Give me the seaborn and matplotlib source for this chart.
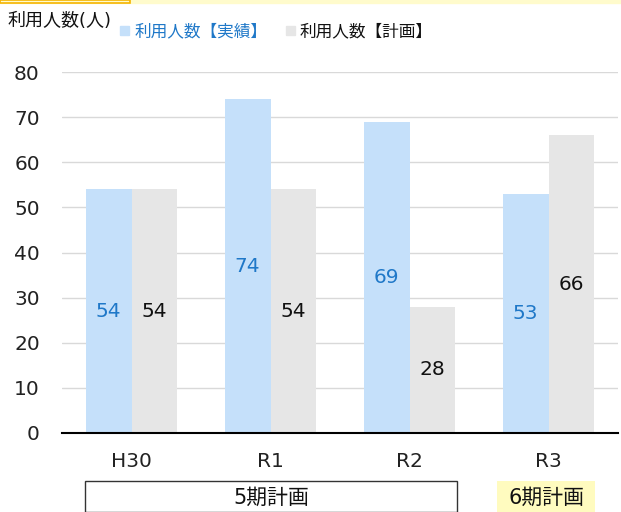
import matplotlib
matplotlib.use("Agg")
import matplotlib.pyplot as plt
from matplotlib.patches import Rectangle
import seaborn as sns
import pandas as pd

years = ["H30", "R1", "R2", "R3"]
actual = [54, 74, 69, 53]
planned = [54, 54, 28, 66]
series_names = ["利用人数【実績】", "利用人数【計画】"]
y_ticks = [0, 10, 20, 30, 40, 50, 60, 70, 80]
y_title = "利用人数(人)"
period_labels = ["5期計画", "6期計画"]

sns.set_theme(style="white")
plt.rcParams["font.family"] = ["DejaVu Sans", "Noto Sans CJK JP"]

blue_bar = "#C5E0FA"
gray_bar = "#E6E6E6"
blue_text = "#1F78C8"

df = pd.DataFrame({
    "year": years * 2,
    "value": actual + planned,
    "series": [series_names[0]] * len(years) + [series_names[1]] * len(years),
})

fig = plt.figure(figsize=(6.21, 5.12), dpi=100)
ax = fig.add_axes([62 / 621, (512 - 433) / 512, (618 - 62) / 621, (433 - 72) / 512])

sns.barplot(data=df, x="year", y="value", hue="series", order=years,
            hue_order=series_names, palette=[blue_bar, gray_bar],
            width=0.66, gap=0, saturation=1, legend=False,
            linewidth=0, edgecolor="none", ax=ax)

ax.set_xlim(-0.5, 3.5)
ax.set_ylim(0, 80)
ax.set_yticks(y_ticks)
ax.tick_params(axis="y", labelsize=14.5, length=0, pad=16, labelcolor="#222222")
ax.tick_params(axis="x", labelsize=14.5, length=0, pad=14, labelcolor="#222222")
ax.set_xlabel("")
ax.set_ylabel("")
ax.yaxis.grid(True, color="#D9D9D9", linewidth=1)
ax.set_axisbelow(True)
for side in ["top", "right", "left"]:
    ax.spines[side].set_visible(False)
ax.spines["bottom"].set_color("#000000")
ax.spines["bottom"].set_linewidth(1.5)

# value labels at the middle of each bar
for container, color in zip(ax.containers, [blue_text, "#111111"]):
    for bar in container:
        h = bar.get_height()
        ax.text(bar.get_x() + bar.get_width() / 2, h / 2, f"{h:.0f}",
                ha="center", va="center", fontsize=14.5, color=color)

# axis title and legend along the top
fig.text(8 / 621, 1 - 21 / 512, y_title, ha="left", va="center",
         fontsize=13, color="#111111")
fig.patches.append(Rectangle((120 / 621, 1 - 35 / 512), 9 / 621, 9 / 512,
                             transform=fig.transFigure, color=blue_bar))
fig.text(135 / 621, 1 - 31 / 512, series_names[0], ha="left", va="center",
         fontsize=12, color=blue_text)
fig.patches.append(Rectangle((286 / 621, 1 - 35 / 512), 9 / 621, 9 / 512,
                             transform=fig.transFigure, color=gray_bar))
fig.text(300 / 621, 1 - 31 / 512, series_names[1], ha="left", va="center",
         fontsize=12, color="#111111")

# header strip
fig.patches.append(Rectangle((0, 1 - 3 / 512), 1, 3 / 512,
                             transform=fig.transFigure, color="#FFFBCC", zorder=0))
fig.patches.append(Rectangle((0, 1 - 3 / 512), 130 / 621, 3 / 512,
                             transform=fig.transFigure, facecolor="none",
                             edgecolor="#F5B400", linewidth=1.2))

# planning period boxes under the x axis
fig.patches.append(Rectangle((85 / 621, 0), (457 - 85) / 621, (512 - 481) / 512,
                             transform=fig.transFigure, facecolor="white",
                             edgecolor="#333333", linewidth=1))
fig.text(271 / 621, 1 - 498 / 512, period_labels[0], ha="center", va="center",
         fontsize=15, color="#111111")
fig.patches.append(Rectangle((497 / 621, 0), (595 - 497) / 621, (512 - 481) / 512,
                             transform=fig.transFigure, facecolor="#FFFBBF",
                             edgecolor="none"))
fig.text(546 / 621, 1 - 498 / 512, period_labels[1], ha="center", va="center",
         fontsize=15, color="#111111")

fig.savefig("out.png", dpi=100)
